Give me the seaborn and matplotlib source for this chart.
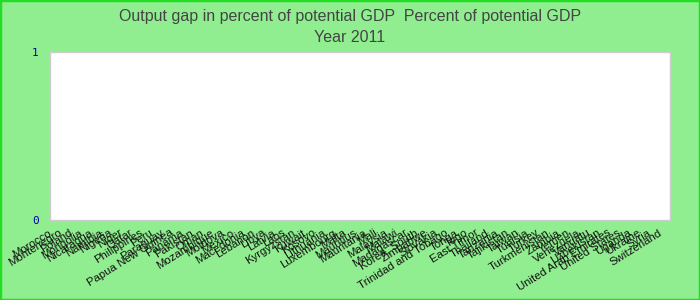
import matplotlib
matplotlib.use("Agg")
import matplotlib.pyplot as plt
import matplotlib.transforms as mtransforms
import seaborn as sns
import pandas as pd
from matplotlib.patches import Rectangle

countries = [
    "Morocco", "Montenegro", "Poland", "Mongolia", "Nicaragua", "Namibia",
    "Nigeria", "Niger", "Qatar", "Philippines", "Peru", "Paraguay",
    "Papua New Guinea", "Panama", "Pakistan", "Oman", "Mozambique", "Moldova",
    "Mexico", "Macedonia", "Lebanon", "Libya", "Latvia", "Laos",
    "Kyrgyzstan", "Kuwait", "Kosovo", "Lithuania", "Luxembourg", "Malta",
    "Mauritius", "Mauritania", "Mali", "Malaysia", "Malawi", "Madagascar",
    "Korea, South", "Zimbabwe", "Slovakia", "Trinidad and Tobago", "Tonga",
    "Togo", "East Timor", "Thailand", "Tanzania", "Tajikistan", "Taiwan",
    "Tunisia", "Turkey", "Turkmenistan", "Zambia", "Yemen", "Venezuela",
    "Vanuatu", "Uzbekistan", "United Arab Emirates", "United States",
    "Uganda", "Ukraine", "Syria", "Switzerland",
]
output_gap = [0.0] * len(countries)
y_ticks = [0, 1]
title_line1 = "Output gap in percent of potential GDP  Percent of potential GDP"
title_line2 = "Year 2011"

df = pd.DataFrame({"country": countries, "gap": output_gap})

sns.set_theme(style="white")
plt.rcParams["font.family"] = ["Liberation Sans", "DejaVu Sans"]

fig = plt.figure(figsize=(7, 3), dpi=100, facecolor="#90EE90")
ax = fig.add_axes([50 / 700, 80 / 300, 620 / 700, 168 / 300])
ax.set_facecolor("white")

sns.barplot(data=df, x="country", y="gap", color="#4572A7", ax=ax)

ax.set_ylim(0, 1)
ax.set_yticks(y_ticks)
ax.set_yticklabels([str(v) for v in y_ticks], color="#0000aa", fontsize=8,
                   family="DejaVu Sans Mono")
ax.tick_params(axis="y", length=0, pad=8)
ax.tick_params(axis="x", length=0, pad=4)
ax.set_xticks(range(len(countries)))
ax.set_xticklabels(countries, rotation=32, ha="right", rotation_mode="anchor",
                   fontsize=8.2, color="#111111")
offset = mtransforms.ScaledTranslation(-7 / 100, -2 / 100, fig.dpi_scale_trans)
for lbl in ax.get_xticklabels():
    lbl.set_transform(lbl.get_transform() + offset)
ax.set_xlabel("")
ax.set_ylabel("")
for s in ax.spines.values():
    s.set_color("#cccccc")
    s.set_linewidth(1)

fig.text(0.5, 1 - 17 / 300, title_line1, ha="center", va="center",
         fontsize=11.5, color="#444444")
fig.text(0.5, 1 - 37 / 300, title_line2, ha="center", va="center",
         fontsize=11.5, color="#444444")

fig.patches.append(Rectangle((0, 0), 1, 1, transform=fig.transFigure,
                             fill=False, edgecolor="#22dd22", linewidth=2.5))

fig.savefig("out.png", dpi=100, facecolor=fig.get_facecolor())
